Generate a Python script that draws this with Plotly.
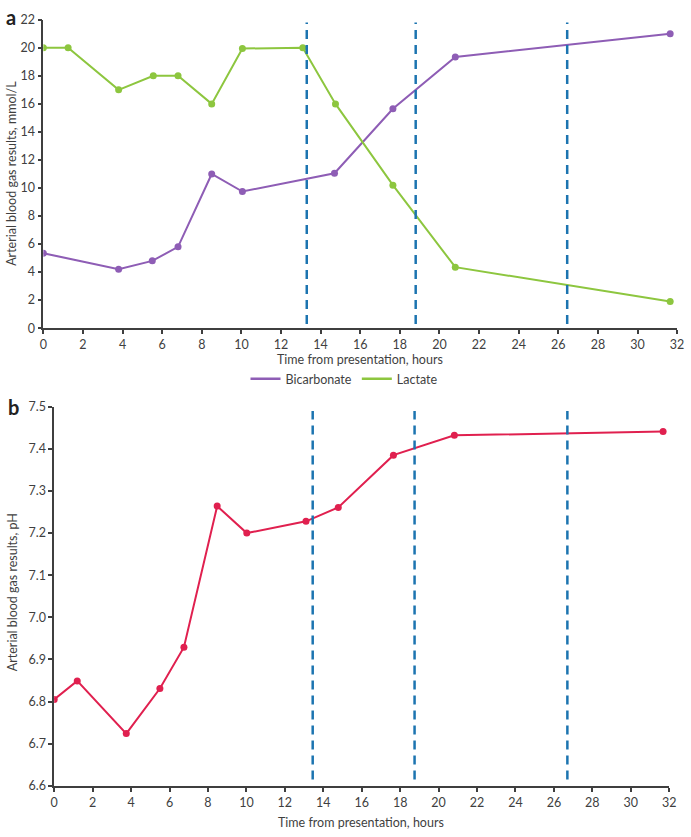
import plotly.graph_objects as go

# Panel a data
hours_lactate = [0, 1.25, 3.8, 5.55, 6.8, 8.5, 10.05, 13.1, 14.75, 17.65, 20.8, 31.65]
lactate = [20.0, 20.0, 17.0, 18.0, 18.0, 16.0, 19.95, 20.0, 16.0, 10.2, 4.35, 1.9]
hours_bicarb = [0, 3.8, 5.5, 6.8, 8.5, 10.05, 14.7, 17.65, 20.8, 31.65]
bicarbonate = [5.35, 4.2, 4.8, 5.8, 11.0, 9.75, 11.05, 15.65, 19.35, 21.0]
dashed_a = [13.3, 18.8, 26.45]

# Panel b data
hours_ph = [0, 1.2, 3.75, 5.5, 6.75, 8.48, 10.02, 13.1, 14.78, 17.65, 20.82, 31.68]
ph = [6.805, 6.849, 6.724, 6.831, 6.929, 7.264, 7.2, 7.228, 7.261, 7.385, 7.432, 7.441]
dashed_b = [13.45, 18.75, 26.7]

x_ticks = list(range(0, 33, 2))
ya_ticks = list(range(0, 23, 2))
yb_ticks = [6.6, 6.7, 6.8, 6.9, 7.0, 7.1, 7.2, 7.3, 7.4, 7.5]
yb_labels = ["6.6", "6.7", "6.8", "6.9", "7.0", "7.1", "7.2", "7.3", "7.4", "7.5"]

PURPLE = "#8E5DB5"
GREEN = "#8DC63F"
RED = "#E0204F"
BLUE = "#1C74B0"
AXC = "#3f3f3f"
FONT = "Lato"
W, H = 691, 837

fig = go.Figure()

fig.add_trace(go.Scatter(x=hours_bicarb, y=bicarbonate, mode="lines+markers",
                         line=dict(color=PURPLE, width=2), marker=dict(color=PURPLE, size=7),
                         xaxis="x", yaxis="y", showlegend=False))
fig.add_trace(go.Scatter(x=hours_lactate, y=lactate, mode="lines+markers",
                         line=dict(color=GREEN, width=2), marker=dict(color=GREEN, size=7),
                         xaxis="x", yaxis="y", showlegend=False))
# legend entries (lines only)
fig.add_trace(go.Scatter(x=[None], y=[None], mode="lines", name="Bicarbonate",
                         line=dict(color=PURPLE, width=2.5), xaxis="x", yaxis="y"))
fig.add_trace(go.Scatter(x=[None], y=[None], mode="lines", name="Lactate",
                         line=dict(color=GREEN, width=2.5), xaxis="x", yaxis="y"))

fig.add_trace(go.Scatter(x=hours_ph, y=ph, mode="lines+markers",
                         line=dict(color=RED, width=2), marker=dict(color=RED, size=7),
                         xaxis="x2", yaxis="y2", showlegend=False))

shapes = []
for xv in dashed_a:
    shapes.append(dict(type="line", xref="x", yref="y", x0=xv, x1=xv, y0=0.3, y1=21.8,
                       line=dict(color=BLUE, width=2.5, dash="9px,6px")))
for xv in dashed_b:
    shapes.append(dict(type="line", xref="x2", yref="y2", x0=xv, x1=xv, y0=6.615, y1=7.49,
                       line=dict(color=BLUE, width=2.5, dash="9px,6px")))

def px_x(p):
    return p / W

def px_y(p):
    return 1 - p / H

axis_common = dict(showline=True, linecolor=AXC, linewidth=1.5, ticks="outside",
                   ticklen=4, tickcolor=AXC, tickwidth=1.5, showgrid=False, zeroline=False,
                   tickfont=dict(family=FONT, size=12.5, color=AXC), mirror=False)

fig.update_layout(
    width=W, height=H,
    margin=dict(l=0, r=0, t=0, b=0),
    plot_bgcolor="white", paper_bgcolor="white",
    font=dict(family=FONT, color=AXC),
    xaxis=dict(domain=[px_x(40), px_x(684)], range=[0, 32], tickvals=x_ticks,
               anchor="y", **axis_common),
    yaxis=dict(domain=[px_y(326), px_y(12)], range=[0, 22], tickvals=ya_ticks,
               anchor="x", **axis_common),
    xaxis2=dict(domain=[px_x(51), px_x(676)], range=[0, 32], tickvals=x_ticks,
                anchor="y2", **axis_common),
    yaxis2=dict(domain=[px_y(792), px_y(406)], range=[6.6, 7.5], tickvals=yb_ticks,
                ticktext=yb_labels, anchor="x2", **axis_common),
    shapes=shapes,
    legend=dict(orientation="h", x=0.5, y=px_y(378), xanchor="center", yanchor="middle",
                font=dict(family=FONT, size=12.5, color=AXC), itemwidth=30,
                bgcolor="rgba(0,0,0,0)"),
    annotations=[
        dict(text="<b>a</b>", x=px_x(0), y=px_y(-5), xref="paper", yref="paper",
             xanchor="left", yanchor="top", showarrow=False,
             font=dict(family=FONT, size=20, color="#222")),
        dict(text="<b>b</b>", x=px_x(2), y=px_y(392), xref="paper", yref="paper",
             xanchor="left", yanchor="top", showarrow=False,
             font=dict(family=FONT, size=20, color="#222")),
        dict(text="Time from presentation, hours", x=px_x(362), y=px_y(358), xref="paper",
             yref="paper", xanchor="center", yanchor="middle", showarrow=False,
             font=dict(family=FONT, size=12.5, color=AXC)),
        dict(text="Time from presentation, hours", x=px_x(363), y=px_y(829), xref="paper",
             yref="paper", xanchor="center", yanchor="middle", showarrow=False,
             font=dict(family=FONT, size=12.5, color=AXC)),
        dict(text="Arterial blood gas results, mmol/L", x=px_x(8), y=px_y(168), xref="paper",
             yref="paper", xanchor="center", yanchor="middle", showarrow=False, textangle=-90,
             font=dict(family=FONT, size=12.5, color=AXC)),
        dict(text="Arterial blood gas results, pH", x=px_x(8), y=px_y(595), xref="paper",
             yref="paper", xanchor="center", yanchor="middle", showarrow=False, textangle=-90,
             font=dict(family=FONT, size=12.5, color=AXC)),
    ],
)

fig.write_html("out.html", config={"displayModeBar": False},
               post_script="document.body.style.margin='0px';document.body.style.overflow='hidden';")
